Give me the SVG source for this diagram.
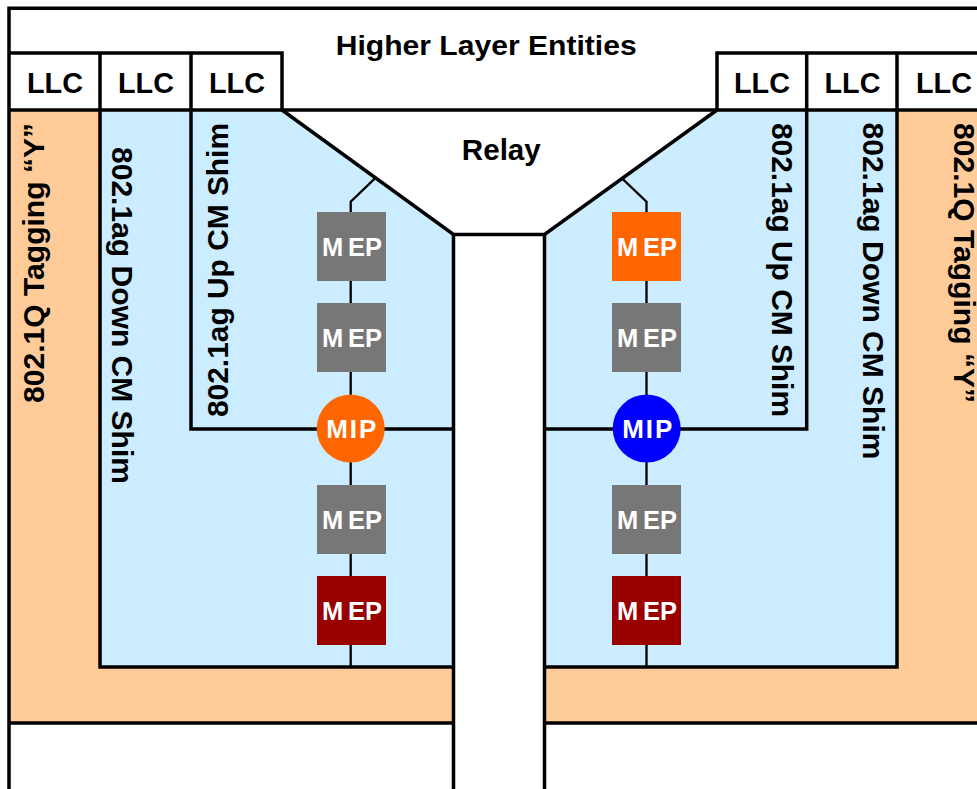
<svg xmlns="http://www.w3.org/2000/svg" width="977" height="789" viewBox="0 0 977 789">
<style>
.ln{stroke:#000;stroke-width:3.5;fill:none;stroke-linejoin:miter}
.cn{stroke:#000;stroke-width:2.3;fill:none}
.t{font-family:"Liberation Sans",Arial,sans-serif;font-weight:bold;fill:#000}
.w{font-family:"Liberation Sans",Arial,sans-serif;font-weight:bold;fill:#fff}
.peach{fill:#FFCC99}
.blue{fill:#CCECFF}
.gray{fill:#777777}
.red{fill:#990000}
.orange{fill:#FF6600}
</style>
<rect x="0" y="0" width="977" height="789" fill="#fff"/>

<g id="tagging-left">
<rect class="peach" x="9" y="110" width="444.5" height="613"/>
<text class="t" font-size="29" text-anchor="middle" textLength="280" lengthAdjust="spacingAndGlyphs" transform="translate(44.3,263) rotate(-90)">802.1Q Tagging “Y”</text>
</g>
<g id="tagging-right">
<rect class="peach" x="544.5" y="110" width="440" height="613"/>
<text class="t" font-size="29" text-anchor="middle" textLength="280" lengthAdjust="spacingAndGlyphs" transform="translate(954,263) rotate(90)">802.1Q Tagging “Y”</text>
</g>
<g id="down-shim-left">
<rect class="blue" x="100" y="110" width="353.5" height="557"/>
<text class="t" font-size="29" text-anchor="middle" textLength="337" lengthAdjust="spacingAndGlyphs" transform="translate(111.7,315.5) rotate(90)">802.1ag Down CM Shim</text>
</g>
<g id="down-shim-right">
<rect class="blue" x="544.5" y="110" width="352.5" height="557"/>
<text class="t" font-size="29" text-anchor="middle" textLength="337" lengthAdjust="spacingAndGlyphs" transform="translate(862.7,291) rotate(90)">802.1ag Down CM Shim</text>
</g>
<g id="up-shim-left">
<text class="t" font-size="29" text-anchor="middle" textLength="294" lengthAdjust="spacingAndGlyphs" transform="translate(228.3,270) rotate(-90)">802.1ag Up CM Shim</text>
</g>
<g id="up-shim-right">
<text class="t" font-size="29" text-anchor="middle" textLength="294" lengthAdjust="spacingAndGlyphs" transform="translate(771.7,270) rotate(90)">802.1ag Up CM Shim</text>
</g>

<g id="relay">
<polygon points="282,110 717,110 544.5,234.5 544.5,789 453.5,789 453.5,234.5" fill="#fff"/>
<text class="t" font-size="29" text-anchor="middle" textLength="79" lengthAdjust="spacingAndGlyphs" x="501.3" y="160">Relay</text>
</g>

<g id="higher-layer">
<rect x="9" y="8" width="980" height="102" fill="#fff"/>
<text class="t" font-size="28" text-anchor="middle" textLength="301" lengthAdjust="spacingAndGlyphs" x="486.2" y="55">Higher Layer Entities</text>
</g>

<g id="frame-lines">
<path class="ln" d="M9,789 V8.3 H985"/>
<path class="ln" d="M9,110 H985"/>
<path class="ln" d="M9,53 H282 V110 M100,53 V110 M191,53 V110"/>
<path class="ln" d="M985,53 H717 V110 M806.7,53 V110 M897,53 V110"/>
<path class="ln" d="M282,110 L453.5,234.5 L544.5,234.5 L717,110"/>
<path class="ln" stroke-width="4.2" d="M453.5,234.5 V789 M544.5,234.5 V789"/>
<path class="ln" d="M9,723 H453.5 M544.5,723 H985"/>
<path class="ln" d="M100,110 V667 H453.5 M897,110 V667 H544.5"/>
<path class="ln" d="M191,110 V429 H453.5 M806.7,110 V429 H544.5"/>
</g>

<g id="llc-left">
<text class="t" font-size="29" text-anchor="middle" textLength="56" lengthAdjust="spacingAndGlyphs" x="55" y="92.7">LLC</text>
<text class="t" font-size="29" text-anchor="middle" textLength="56" lengthAdjust="spacingAndGlyphs" x="146" y="92.7">LLC</text>
<text class="t" font-size="29" text-anchor="middle" textLength="56" lengthAdjust="spacingAndGlyphs" x="237" y="92.7">LLC</text>
</g>
<g id="llc-right">
<text class="t" font-size="29" text-anchor="middle" textLength="56" lengthAdjust="spacingAndGlyphs" x="762" y="92.7">LLC</text>
<text class="t" font-size="29" text-anchor="middle" textLength="56" lengthAdjust="spacingAndGlyphs" x="852.5" y="92.7">LLC</text>
<text class="t" font-size="29" text-anchor="middle" textLength="56" lengthAdjust="spacingAndGlyphs" x="944" y="92.7">LLC</text>
</g>

<g id="connectors">
<path class="cn" d="M375,178.3 L350.7,201.7 V667"/>
<path class="cn" d="M622,178.3 L646.5,201.7 V667"/>
</g>

<g id="mep-l1"><rect class="gray" x="317" y="212" width="69" height="69"/><text class="w" font-size="25.5" y="256"><tspan x="322">M</tspan><tspan x="348">EP</tspan></text></g>
<g id="mep-l2"><rect class="gray" x="317" y="303" width="69" height="69"/><text class="w" font-size="25.5" y="347"><tspan x="322">M</tspan><tspan x="348">EP</tspan></text></g>
<g id="mip-l"><circle class="orange" cx="350.7" cy="428.5" r="34"/><text class="w" font-size="26" text-anchor="middle" textLength="50" x="351.3" y="438.3">MIP</text></g>
<g id="mep-l3"><rect class="gray" x="317" y="485" width="69" height="69"/><text class="w" font-size="25.5" y="529"><tspan x="322">M</tspan><tspan x="348">EP</tspan></text></g>
<g id="mep-l4"><rect class="red" x="317" y="576" width="69" height="69"/><text class="w" font-size="25.5" y="620"><tspan x="322">M</tspan><tspan x="348">EP</tspan></text></g>

<g id="mep-r1"><rect class="orange" x="612" y="212" width="69" height="69"/><text class="w" font-size="25.5" y="256"><tspan x="617">M</tspan><tspan x="643">EP</tspan></text></g>
<g id="mep-r2"><rect class="gray" x="612" y="303" width="69" height="69"/><text class="w" font-size="25.5" y="347"><tspan x="617">M</tspan><tspan x="643">EP</tspan></text></g>
<g id="mip-r"><circle cx="646.7" cy="428.5" r="34" fill="#0000FF"/><text class="w" font-size="26" text-anchor="middle" textLength="50" x="647.3" y="438.3">MIP</text></g>
<g id="mep-r3"><rect class="gray" x="612" y="485" width="69" height="69"/><text class="w" font-size="25.5" y="529"><tspan x="617">M</tspan><tspan x="643">EP</tspan></text></g>
<g id="mep-r4"><rect class="red" x="612" y="576" width="69" height="69"/><text class="w" font-size="25.5" y="620"><tspan x="617">M</tspan><tspan x="643">EP</tspan></text></g>
</svg>
